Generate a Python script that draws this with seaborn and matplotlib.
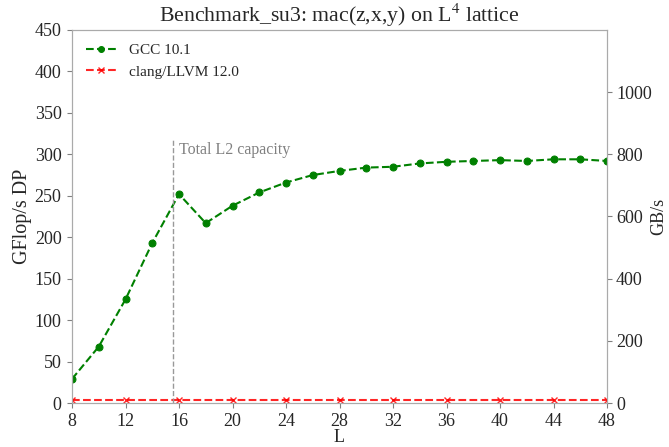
import numpy as np
import pandas as pd
import matplotlib
matplotlib.use("Agg")
import matplotlib.pyplot as plt
import seaborn as sns

# Data
L_gcc = [8, 10, 12, 14, 16, 18, 20, 22, 24, 26, 28, 30, 32, 34, 36, 38, 40, 42, 44, 46, 48]
gflops_gcc = [29, 68, 125, 193, 252, 217, 238, 254, 266, 275, 280, 284, 285, 289, 291, 292, 293, 292, 294, 294, 292]
L_clang = [8, 12, 16, 20, 24, 28, 32, 36, 40, 44, 48]
gflops_clang = [3.6, 3.6, 3.6, 3.6, 3.6, 3.6, 3.6, 3.6, 3.6, 3.6, 3.6]
l2_position = 15.55
series_labels = ["GCC 10.1", "clang/LLVM 12.0"]
xticks = [8, 12, 16, 20, 24, 28, 32, 36, 40, 44, 48]
left_ticks = [0, 50, 100, 150, 200, 250, 300, 350, 400, 450]
right_ticks = [0, 200, 400, 600, 800, 1000]

sns.set_style("ticks")
plt.rcParams['font.family'] = ['Liberation Serif', 'DejaVu Serif']
plt.rcParams['mathtext.fontset'] = 'stix'

df_gcc = pd.DataFrame({"L": L_gcc, "GF": gflops_gcc})
df_clang = pd.DataFrame({"L": L_clang, "GF": gflops_clang})

fig = plt.figure(figsize=(6.69, 4.47), dpi=100)
ax = fig.add_axes([72/669, 1-403/447, 535/669, 373/447])

sns.lineplot(data=df_gcc, x="L", y="GF", ax=ax, color="green", linestyle="--",
             marker="o", markersize=5, markeredgecolor="green", label=series_labels[0])
sns.lineplot(data=df_clang, x="L", y="GF", ax=ax, color="red", linestyle="--", alpha=0.85,
             marker="x", markersize=5, markeredgecolor="red", markeredgewidth=1, label=series_labels[1])

ax.vlines(l2_position, 0, 320, colors="#999999", linestyles="--", linewidth=1)
ax.text(l2_position + 0.45, 305, "Total L2 capacity", color="gray", fontsize=11.5, va="center", ha="left")

ax.set_xlim(8, 48)
ax.set_ylim(0, 450)
ax.set_xticks(xticks)
ax.set_yticks(left_ticks)
ax.tick_params(labelsize=13, color="gray", length=3.5, pad=4)
ax.set_xlabel("L", fontsize=13, labelpad=-1)
ax.set_ylabel("GFlop/s DP", fontsize=14.5, labelpad=2)
ax.set_title("Benchmark_su3: mac(z,x,y) on L$^4$ lattice", fontsize=15.7, pad=6)

ax2 = ax.twinx()
ax2.set_ylim(0, 1200)
ax2.set_yticks(right_ticks)
ax2.tick_params(labelsize=13, color="gray", length=3.5, pad=3)
ax2.set_ylabel("GB/s", fontsize=13, labelpad=-1)

for a in (ax, ax2):
    for s in a.spines.values():
        s.set_color("#aaaaaa")

leg = ax.legend(loc="upper left", frameon=False, fontsize=11, handlelength=2.0,
                handletextpad=0.8, markerscale=0.85)

fig.savefig("out.png", dpi=100)
